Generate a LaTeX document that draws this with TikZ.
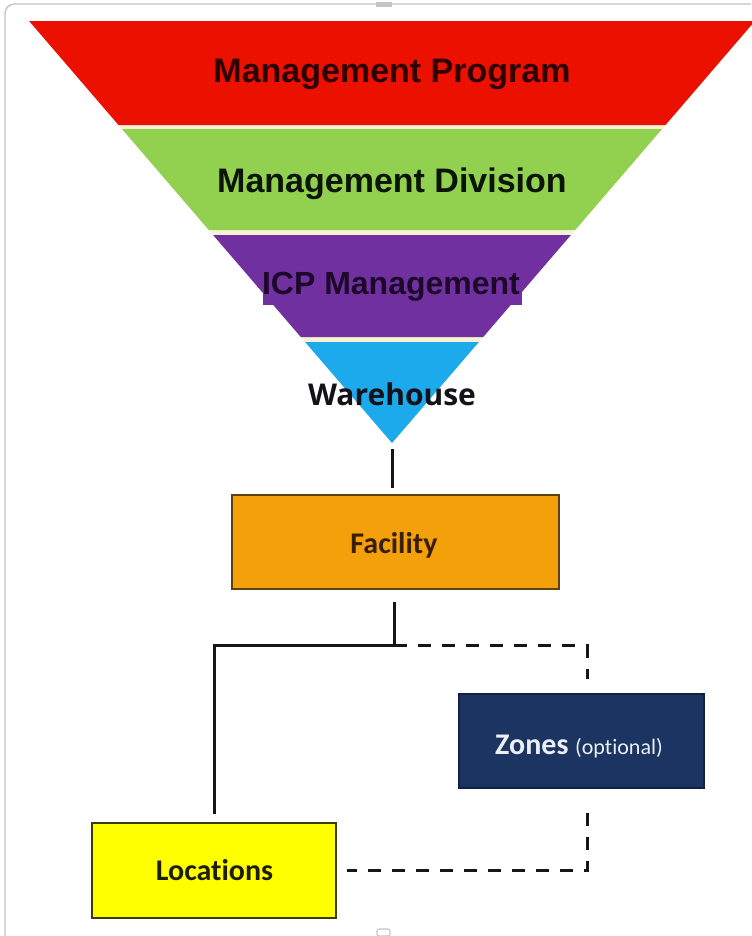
\documentclass[tikz,border=0pt]{standalone}
\usepackage{fontspec}
\setmainfont{Liberation Sans}
\newfontfamily\carlito[Ligatures={NoCommon}]{Carlito}
\newfontfamily\opensans{Open Sans}
\usetikzlibrary{calc}
\definecolor{fred}{RGB}{236,16,0}
\definecolor{fgreen}{RGB}{146,208,80}
\definecolor{fpurple}{RGB}{112,48,160}
\definecolor{fblue}{RGB}{28,170,236}
\definecolor{fgap}{RGB}{246,242,210}
\definecolor{forange}{RGB}{243,160,10}
\definecolor{fnavy}{RGB}{27,52,97}
\definecolor{fyellow}{RGB}{255,255,0}
\definecolor{tred}{RGB}{45,0,0}
\definecolor{tgreen}{RGB}{12,20,5}
\definecolor{tpurple}{RGB}{28,8,40}
\definecolor{tblue}{RGB}{18,18,24}
\definecolor{framec}{RGB}{196,196,196}
\definecolor{connc}{RGB}{22,22,22}
\tikzset{
  ftext/.style={anchor=base, inner sep=0pt, font=\bfseries\fontsize{25.5}{30}\selectfont},
  boxnode/.style={rectangle, inner sep=0pt, line width=1.2pt},
  boxtext/.style={anchor=base, inner sep=0pt, font=\carlito\bfseries\fontsize{22.5}{26}\selectfont},
  conn/.style={line width=2.25pt, draw=connc},
  dconn/.style={conn, dash pattern=on 9.75pt off 8.25pt}
}
\begin{document}
\begin{tikzpicture}[x=0.75pt,y=-0.75pt]
\useasboundingbox (0,0) rectangle (751,936);
\fill[white] (0,0) rectangle (751,936);
% frame of the screenshot
\draw[framec, line width=1.1pt, rounded corners=7pt] (5,936) -- (5,4) -- (751,4);
\fill[framec] (376,2) rectangle (392,7);
\draw[framec, line width=0.8pt, rounded corners=1.5pt] (377,929) rectangle (390,936);
% funnel
\fill[fgap] (29.1,21) -- (754.9,21) -- (392,443) -- cycle;
\fill[fred] (29.1,21) -- (754.9,21) -- (665.5,125) -- (118.5,125) -- cycle;
\fill[fgreen] (122,129) -- (662,129) -- (575.2,230) -- (208.8,230) -- cycle;
\fill[fpurple] (213.1,235) -- (570.9,235) -- (483.2,337) -- (300.8,337) -- cycle;
\fill[fpurple] (263,262) rectangle (522,305);
\fill[fblue] (305.1,342) -- (478.9,342) -- (392,443) -- cycle;
\coordinate (tip) at (392,443);
\node[ftext, text=tred] (mp) at (392,82) {Management Program};
\node[ftext, text=tgreen] (md) at (392,192) {Management Division};
\node[ftext, text=tpurple, font=\bfseries\fontsize{24}{28}\selectfont] (icp) at (391,294) {ICP Management};
\node[ftext, text=tblue, font=\opensans\bfseries\fontsize{22.5}{26}\selectfont] (wh) at (392,405) {Warehouse};
% boxes
\node[boxnode, fill=forange, draw={rgb,255:red,95;green,65;blue,15}, minimum width=245.25pt, minimum height=70.5pt] (fac) at (395.5,542) {};
\node[boxnode, fill=fyellow, draw={rgb,255:red,60;green,60;blue,10}, minimum width=183pt, minimum height=71.25pt] (loc) at (214,870.5) {};
\node[boxnode, fill=fnavy, draw={rgb,255:red,18;green,32;blue,66}, minimum width=183.75pt, minimum height=70.5pt] (zon) at (581.5,741) {};
\node[boxtext, text={rgb,255:red,55;green,30;blue,5}] (facT) at (394,553) {Facility};
\node[boxtext, text={rgb,255:red,30;green,30;blue,5}] (locT) at (214.5,880) {Locations};
\node[boxtext, text={rgb,255:red,236;green,240;blue,246}] (zonT) at (579,754) {Zones {\mdseries\fontsize{16.5}{20}\selectfont (optional)}};
% connectors
\coordinate (j) at (394,645.5);
\coordinate (zr) at (587,645.5);
\draw[conn, shorten <=4.5pt, shorten >=5pt] (tip) -- (fac.north -| tip);
\draw[conn, shorten <=9pt, shorten >=6pt, line join=miter] ($(fac.south)+(-1.5,0)$) -- (j) -| (loc.north);
\draw[dconn, line join=miter] (j) -- (zr) -- ($(zr |- zon.north)+(0,-14)$);
\draw[dconn, shorten <=18pt, shorten >=8pt, line join=miter] (zon.south -| zr) |- (loc.east);
\end{tikzpicture}
\end{document}
